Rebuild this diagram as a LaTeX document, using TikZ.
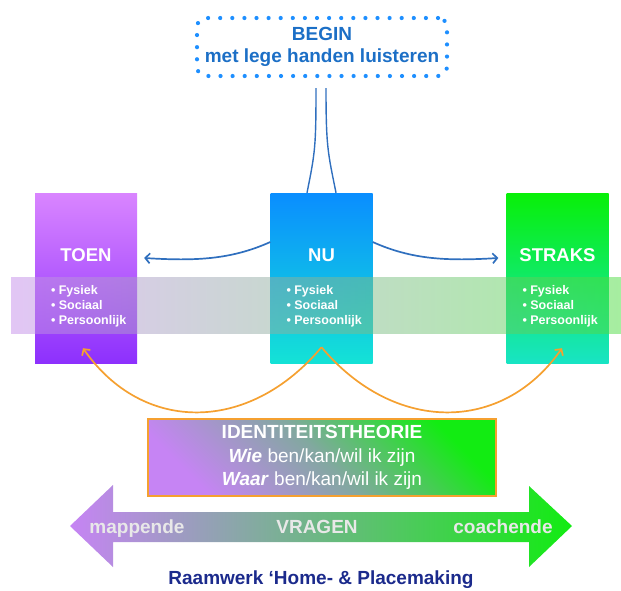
\documentclass[tikz,border=0pt]{standalone}
\usepackage{fontspec}
\setmainfont{Liberation Sans}
\usetikzlibrary{calc,arrows.meta}
\definecolor{beginblauw}{HTML}{1C6FC6}
\definecolor{stipblauw}{HTML}{1E8FFF}
\definecolor{lijnblauw}{HTML}{2F6FBE}
\definecolor{oranje}{HTML}{F5A030}
\definecolor{donkerblauw}{HTML}{1B2A8C}
\definecolor{toenboven}{HTML}{D985FF}
\definecolor{toenonder}{HTML}{8D30FD}
\definecolor{nuboven}{HTML}{0A8EFF}
\definecolor{nuonder}{HTML}{14E2D6}
\definecolor{straksboven}{HTML}{08F008}
\definecolor{straksonder}{HTML}{18E4C4}
\definecolor{bandlinks}{HTML}{C58DEB}
\definecolor{bandmidden}{HTML}{7CB983}
\definecolor{bandrechts}{HTML}{4DDD41}
\definecolor{paars}{HTML}{C684F4}
\definecolor{grijsgroen}{HTML}{82A8A0}
\definecolor{groen}{HTML}{12EC12}
\definecolor{lichtgrijs}{HTML}{E8E8E8}
\tikzset{
    tijdvak/.style={minimum width=102pt,minimum height=170pt,inner sep=0pt},
    kop/.style={text=white,anchor=base,font=\bfseries\fontsize{18.5}{18.5}\selectfont},
    opsomming/.style={text=white,align=left,anchor=north west,inner sep=0pt,font=\bfseries\fontsize{12.5}{15}\selectfont},
    vraagtekst/.style={text=lichtgrijs,anchor=base,font=\bfseries\fontsize{19}{19}\selectfont},
    blauwpijl/.style={draw=lijnblauw,line width=1.7pt,-{Straight Barb[length=4.5pt,width=10pt]}},
    oranjepijl/.style={draw=oranje,line width=1.7pt,-{Straight Barb[length=4.5pt,width=10pt]}},
}
\begin{document}
\begin{tikzpicture}[x=1pt,y=-1pt]
    \useasboundingbox (0,0) rectangle (621,590);
    %begin, stippelrand
    \node[draw=stipblauw,line width=4.2pt,line cap=round,dash pattern=on 0pt off 12.1pt,rounded corners=9pt,outer sep=0pt,
          minimum width=250pt,minimum height=58pt,align=center,text=beginblauw,
          font=\bfseries\fontsize{19}{22}\selectfont] (begin) at (322,47) {BEGIN\\met lege handen luisteren};
    %tijdvakken
    \node[tijdvak,top color=toenboven,bottom color=toenonder] (toen) at (86,278) {};
    \node[tijdvak,top color=nuboven,bottom color=nuonder] (nu) at (321.5,278) {};
    \node[tijdvak,top color=straksboven,bottom color=straksonder] (straks) at (557.5,278) {};
    %band over de drie vakken
    \shade[left color=bandlinks,middle color=bandmidden,right color=bandrechts,opacity=.5] (11,277) rectangle (621,333);
    \foreach \tijd/\kop in {toen/TOEN,nu/NU,straks/STRAKS}{
        \node[kop] at ($(\tijd.north)+(0,69)$) {\kop};
        \node[opsomming] at ($(\tijd.north west)+(16,92)$) {• Fysiek\\• Sociaal\\• Persoonlijk};
    }
    %verbindingen
    \coordinate (b1) at ($(begin.south)+(-6,12)$);
    \coordinate (b2) at ($(begin.south)+(4,12)$);
    \draw[lijnblauw,line width=1.4pt] (b1) .. controls +(0,60) and +(8,-40) .. ($(nu.north)+(-14.5,0)$);
    \draw[lijnblauw,line width=1.4pt] (b2) .. controls +(0,60) and +(-8,-40) .. ($(nu.north)+(14.5,0)$);
    \draw[blauwpijl] ($(nu.west)+(0,-36)$) .. controls +(-40,18) and +(50,3) .. ($(toen.east)+(7,-20)$);
    \draw[blauwpijl] ($(nu.east)+(0,-36)$) .. controls +(40,18) and +(-50,3) .. ($(straks.west)+(-8,-20)$);
    \coordinate (top) at ($(nu.south)+(0,-16)$);
    \draw[oranjepijl] (top) .. controls +(-72,86) and +(60,86) .. ($(toen.south)+(-3,-15)$);
    \draw[oranjepijl] (top) .. controls +(72,86) and +(-60,86) .. ($(straks.south)+(4.5,-15)$);
    %identiteitstheorie
    \node[draw=oranje,line width=1.5pt,bottom color=paars,top color=groen,middle color=grijsgroen,shading angle=-45,
          minimum width=348pt,minimum height=77pt,text=white,align=center,
          font=\fontsize{19}{23.5}\selectfont] (theorie) at (322,457.5)
          {\textbf{IDENTITEITSTHEORIE}\\\textbf{\textit{Wie}} ben/kan/wil ik zijn\\\textbf{\textit{Waar}} ben/kan/wil ik zijn};
    %vragen
    \shade[left color=paars,middle color=grijsgroen,right color=groen]
        (70,526) -- (113,485) -- (113,512) -- (529,512) -- (529,486) -- (572,526)
        -- (529,567) -- (529,542) -- (113,542) -- (113,567) -- cycle;
    \node[vraagtekst] (mappende) at (137,533) {mappende};
    \node[vraagtekst] (vragen) at (317,533) {VRAGEN};
    \node[vraagtekst] (coachende) at (503,533) {coachende};
    \node[anchor=base,text=donkerblauw,font=\bfseries\fontsize{19}{19}\selectfont] (titel) at (321,584) {Raamwerk ‘Home- \& Placemaking};
\end{tikzpicture}
\end{document}
